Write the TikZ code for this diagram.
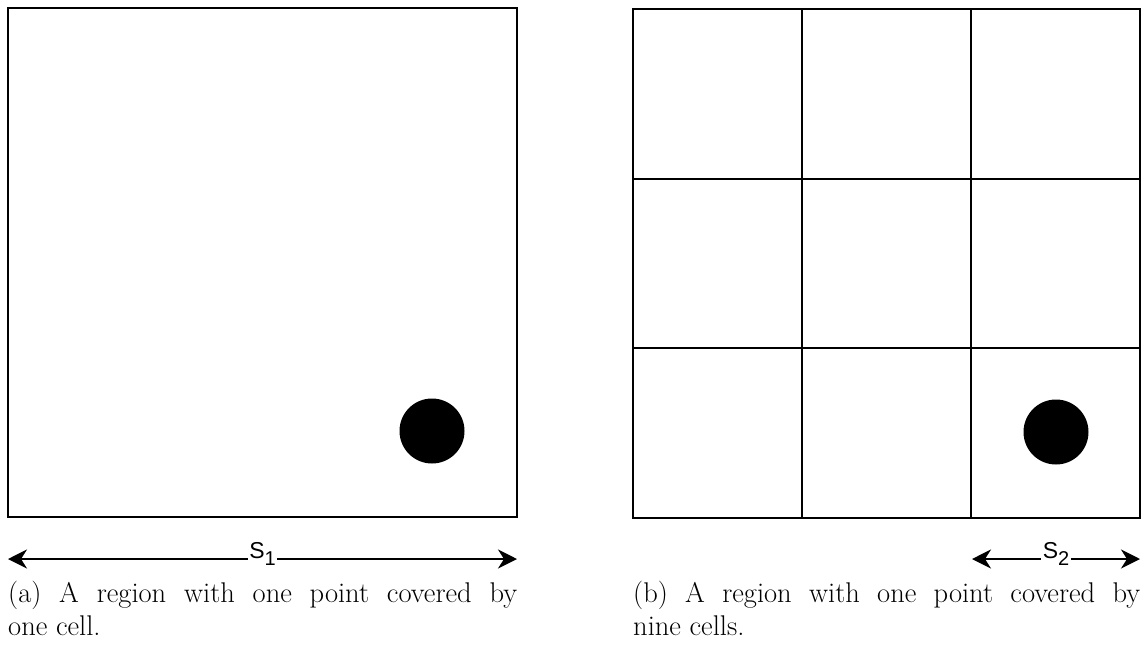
\documentclass[tikz,border=0pt]{standalone}
\usepackage{fontspec}
\newfontfamily\labelfont{Liberation Sans}
\usetikzlibrary{arrows.meta}
\tikzset{
  frame/.style={line width=2.4pt},
  dot/.style={circle, fill=black, minimum size=65pt, inner sep=0pt},
  dim/.style={line width=2pt, {Stealth[length=19pt,width=19pt,inset=6pt]}-{Stealth[length=19pt,width=19pt,inset=6pt]}},
  dimlabel/.style={fill=white, inner sep=1.5pt, anchor=base, font=\labelfont\fontsize{23}{23}\selectfont},
  caption/.style={anchor=base west, inner sep=0pt, font=\fontsize{28.5}{33}\selectfont}
}
\newcommand{\lowsub}[1]{\raisebox{-7pt}{\fontsize{20}{20}\selectfont #1}}
\begin{document}
\begin{tikzpicture}[x=1pt,y=-1pt]
\useasboundingbox (0,0) rectangle (1144,659);
% left region
\draw[frame] (8,8) rectangle (517,517);
\node[dot] (p1) at (432,431) {};
% right region
\draw[frame] (633,9) rectangle (1140,518);
\draw[frame] (802,9) -- (802,518);
\draw[frame] (971,9) -- (971,518);
\draw[frame] (633,179) -- (1140,179);
\draw[frame] (633,348) -- (1140,348);
\node[dot] (p2) at (1056,432) {};
% dimension arrows
\coordinate (a1) at (8,559);
\coordinate (b1) at (517,559);
\draw[dim] (a1) -- (b1) node[midway, dimlabel, yshift=1pt] (s1) {S\lowsub{1}};
\coordinate (a2) at (972,559);
\coordinate (b2) at (1140,559);
\draw[dim] (a2) -- (b2) node[midway, dimlabel, yshift=1pt] (s2) {S\lowsub{2}};
% captions
\node[caption] (c1a) at (8,602) {\makebox[509pt][s]{(a) A region with one point covered by}};
\node[caption] (c1b) at (8,635) {one cell.};
\node[caption] (c2a) at (633,602) {\makebox[507pt][s]{(b) A region with one point covered by}};
\node[caption] (c2b) at (633,635) {nine cells.};
\end{tikzpicture}
\end{document}
